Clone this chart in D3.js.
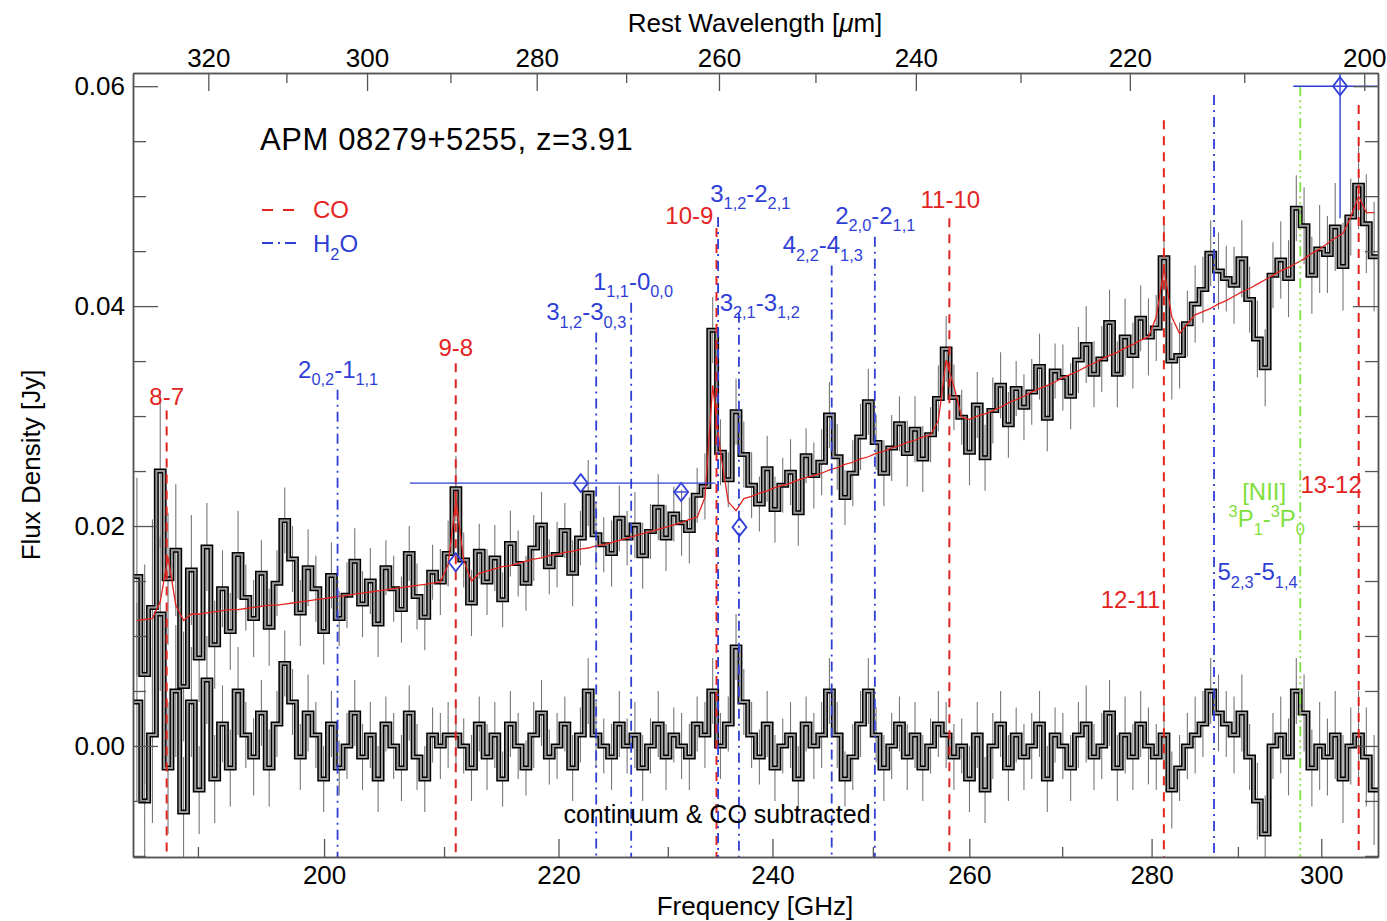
<!DOCTYPE html>
<html>
<head>
<meta charset="utf-8">
<script src="https://cdn.jsdelivr.net/npm/d3@7"></script>
<style>
  body { margin: 0; background: #fff; }
  svg { font-family: "Liberation Sans", Arial, Helvetica, sans-serif; }
</style>
</head>
<body>
<div id="wrapper"></div>
<script>
// channel grid (GHz), log spaced like the Z-Spec channels
const nuMin = 185.05, nuMax = 307.0, nChannels = 160
const redshift = 3.91

// observed spectrum, mJy
const flux = [
  15.4, 6.5, 12.6, 25.0, 15.2, 17.8, 5.4, 16.0, 8.0, 18.1,
  9.2, 14.3, 10.4, 17.4, 13.5, 11.6, 15.7, 10.8, 14.8, 20.5,
  17.0, 12.1, 16.2, 14.3, 10.4, 15.5, 11.6, 13.7, 16.8, 12.9,
  15.0, 11.1, 16.2, 14.3, 12.4, 17.5, 13.6, 11.7, 15.8, 14.9,
  17.5, 23.4, 16.9, 13.0, 17.7, 14.9, 17.1, 13.3, 18.4, 16.6,
  14.8, 18.0, 20.1, 16.3, 17.4, 19.6, 15.7, 18.9, 23.0, 19.2,
  18.3, 17.5, 20.7, 18.9, 20.1, 17.3, 19.5, 21.7, 18.9, 21.1,
  20.3, 19.6, 22.8, 23.6, 37.8, 26.7, 24.2, 30.4, 26.5, 23.7,
  22.0, 25.2, 21.5, 23.7, 24.9, 21.2, 26.4, 24.6, 25.8, 30.1,
  26.3, 22.6, 24.8, 28.1, 31.3, 27.6, 24.8, 27.1, 29.3, 26.6,
  28.8, 26.1, 28.3, 31.6, 36.1, 31.7, 29.9, 26.7, 31.0, 26.2,
  30.5, 32.8, 29.2, 32.5, 30.8, 32.2, 34.5, 29.8, 34.1, 33.5,
  31.8, 35.1, 36.5, 33.8, 35.2, 38.5, 33.8, 37.2, 35.5, 38.9,
  37.2, 38.0, 44.4, 35.0, 35.5, 38.4, 40.2, 41.5, 44.8, 43.2,
  42.5, 41.9, 44.3, 40.6, 37.0, 34.4, 42.8, 44.2, 42.5, 48.9,
  47.3, 42.8, 45.2, 44.7, 47.2, 43.6, 48.1, 51.0, 47.5, 44.5
]

// continuum & CO subtracted, mJy
const resid = [
  4, -5, 1, 12, -2, 5, -6, 4, -4, 6,
  -3, 2, -2, 5, 1, -1, 3, -2, 2, 7.5,
  4, -1, 3, 1, -3, 2, -2, 0, 3, -1,
  1, -3, 2, 0, -2, 3, -1, -3, 1, 0,
  1, 1, 0, -2, 2, -1, 1, -3, 2, 0,
  -2, 1, 3, -1, 0, 2, -2, 1, 5, 1,
  0, -1, 2, 0, 1, -2, 0, 2, -1, 1,
  0, -1, 2, 1, 5, 0, 2, 9, 4, 1,
  -1, 2, -2, 0, 1, -3, 2, 0, 1, 5,
  1, -3, -1, 2, 5, 1, -2, 0, 2, -1,
  1, -2, 0, 2, 1, -1, 0, -3, 1, -4,
  0, 2, -2, 1, -1, 0, 2, -3, 1, 0,
  -2, 1, 2, -1, 0, 3, -2, 1, -1, 2,
  0, -1, 1, -4, -2, 0, 1, 2, 5, 3,
  2, 1, 3, -1, -5, -8, 0, 1, -1, 5,
  3, -2, 0, -1, 1, -3, 0, 1, -1, -4
]

// continuum + CO model, mJy
const model = [
  11.4, 11.5, 11.6, 13.1, 17.2, 12.8, 11.4, 12.0, 12.0, 12.1,
  12.2, 12.3, 12.4, 12.4, 12.5, 12.6, 12.7, 12.8, 12.8, 12.9,
  13.0, 13.1, 13.2, 13.3, 13.4, 13.5, 13.6, 13.7, 13.8, 13.9,
  14.0, 14.1, 14.2, 14.3, 14.4, 14.5, 14.6, 14.7, 14.8, 14.9,
  16.5, 22.4, 16.9, 15.0, 15.7, 15.9, 16.1, 16.3, 16.4, 16.6,
  16.8, 17.0, 17.1, 17.3, 17.4, 17.6, 17.7, 17.9, 18.0, 18.2,
  18.3, 18.5, 18.7, 18.9, 19.1, 19.3, 19.5, 19.7, 19.9, 20.1,
  20.3, 20.6, 20.8, 22.6, 32.8, 26.7, 22.2, 21.4, 22.5, 22.7,
  23.0, 23.2, 23.5, 23.7, 23.9, 24.2, 24.4, 24.6, 24.8, 25.1,
  25.3, 25.6, 25.8, 26.1, 26.3, 26.6, 26.8, 27.1, 27.3, 27.6,
  27.8, 28.1, 28.3, 29.6, 35.1, 32.7, 29.9, 29.7, 30.0, 30.2,
  30.5, 30.8, 31.2, 31.5, 31.8, 32.2, 32.5, 32.8, 33.1, 33.5,
  33.8, 34.1, 34.5, 34.8, 35.2, 35.5, 35.8, 36.2, 36.5, 36.9,
  37.2, 39.0, 43.4, 39.0, 37.5, 38.4, 39.2, 39.5, 39.8, 40.2,
  40.5, 40.9, 41.3, 41.6, 42.0, 42.4, 42.8, 43.2, 43.5, 43.9,
  44.3, 44.8, 45.2, 45.7, 46.2, 46.6, 48.1, 50.0, 48.5, 48.5
]

// 1-sigma errors, mJy
const err = [
  9, 10, 8, 7, 6, 6, 5, 5, 4, 4,
  4, 3.5, 3.5, 4, 3, 3.5, 3, 3.5, 3, 3,
  3, 3, 3.5, 3, 3, 3, 2.5, 3, 3, 3,
  3, 3, 2.5, 3, 3, 2.5, 3, 3, 2.5, 3,
  3, 3, 2.5, 3, 2.5, 3, 3, 2.5, 3, 3,
  2.5, 3, 3, 2.5, 3, 2.5, 3, 2.5, 3, 3,
  2.5, 3, 3, 2.5, 3, 3, 2.5, 3, 3, 2.5,
  3, 3, 2.5, 3, 3, 3, 2.5, 3, 3, 3,
  2.5, 3, 3, 2.5, 3, 3, 2.5, 3, 3, 3,
  3, 2.5, 3, 3, 3, 2.5, 3, 3, 2.5, 3,
  3, 3, 2.5, 3, 3, 3, 2.5, 3, 3, 3,
  3, 3, 3, 2.5, 3, 3, 3, 3, 2.5, 3,
  3, 3, 3.5, 3, 3, 3, 3, 3.5, 3, 3,
  3.5, 3, 3, 3.5, 3, 3, 3.5, 3, 3, 3.5,
  3, 3.5, 3.5, 3, 3.5, 3.5, 3, 3.5, 3.5, 3,
  3.5, 3.5, 4, 3.5, 4, 4, 3.5, 4, 4.5, 5
]

// line identifications: observed GHz, top of marker (mJy), label spot in data units
const coLines = [
  { label: "8-7",   nu: 187.6, top: 30.5, lx: 187.6, ly: 31.0, anchor: "middle" },
  { label: "9-8",   nu: 211.0, top: 34.8, lx: 211.0, ly: 35.5, anchor: "middle" },
  { label: "10-9",  nu: 234.6, top: 47.1, lx: 234.3, ly: 47.5, anchor: "end" },
  { label: "11-10", nu: 257.9, top: 48.0, lx: 258.0, ly: 48.9, anchor: "middle" },
  { label: "12-11", nu: 281.4, top: 56.9, lx: 281.0, ly: 12.5, anchor: "end" },
  { label: "13-12", nu: 304.6, top: 58.3, lx: 301.2, ly: 23.0, anchor: "middle" }
]
const h2oLines = [
  { label: "2_{0,2}-1_{1,1}", nu: 201.1,  top: 32.4, lx: 197.9, ly: 33.5 },
  { label: "3_{1,2}-3_{0,3}", nu: 223.4,  top: 37.6, lx: 218.9, ly: 38.7 },
  { label: "1_{1,1}-0_{0,0}", nu: 226.6,  top: 40.3, lx: 223.1, ly: 41.5 },
  { label: "3_{1,2}-2_{2,1}", nu: 234.75, top: 48.1, lx: 234.0, ly: 49.5 },
  { label: "3_{2,1}-3_{1,2}", nu: 236.75, top: 39.4, lx: 234.9, ly: 39.6 },
  { label: "4_{2,2}-4_{1,3}", nu: 245.85, top: 43.7, lx: 241.0, ly: 44.8 },
  { label: "2_{2,0}-2_{1,1}", nu: 250.2,  top: 46.3, lx: 246.2, ly: 47.5 },
  { label: "5_{2,3}-5_{1,4}", nu: 287.2,  top: 59.2, lx: 287.6, ly: 15.1 }
]
const niiLine = { nu: 297.45, top: 60.0, labels: [
  { text: "[NII]", lx: 290.5, ly: 22.4 },
  { text: "^{3}P_{1}-^{3}P_{0}", lx: 288.9, ly: 19.9 }
] }

// other measurements (blue diamonds)
const blueNu    = [211.0, 222.0, 231.25, 236.8, 302.3]
const blueFlux  = [16.7, 23.9, 23.1, 19.9, 60.0]
const blueNuLo  = [211.0, 207.1, 230.6, 236.8, 296.6]
const blueNuHi  = [211.0, 234.5, 231.9, 236.8, 307.0]
const blueErr   = [0, 0, 0, 0, 12]

const freqMajor = [200, 220, 240, 260, 280, 300]
const freqMinor = [190, 210, 230, 250, 270, 290]
const waveMajor = [320, 300, 280, 260, 240, 220, 200]
const waveMinor = [310, 290, 270, 250, 230, 210]
const fluxMajor = [0, 20, 40, 60]
const fluxMinor = [-10, -5, 5, 10, 15, 25, 30, 35, 45, 50, 55]

const RED = "#e3241f", BLUE = "#2f3fd6", GREEN = "#7fe03c", AXIS = "#555"

let box = { left: 133, right: 1378, top: 73, bottom: 857 }

let svg = d3.select("#wrapper").append("svg")
    .attr("width", 1387).attr("height", 921)

let x = d3.scaleLog().domain([nuMin, nuMax]).range([box.left, box.right])
let y = d3.scaleLinear().domain([-10.1, 61.2]).range([box.bottom, box.top])
// rest wavelength in micron for the top axis
const toWave = nu => 299792.458 / (nu * (1 + redshift))
let xw = d3.scaleLog().domain([toWave(nuMin), toWave(nuMax)]).range([box.left, box.right])

svg.append("defs").append("clipPath").attr("id", "plotclip")
  .append("rect")
    .attr("x", box.left).attr("y", box.top)
    .attr("width", box.right - box.left).attr("height", box.bottom - box.top)

let plot = svg.append("g").attr("clip-path", "url(#plotclip)")

// channel edges + centres
let edges = d3.range(nChannels + 1).map(i => nuMin * Math.pow(nuMax / nuMin, i / nChannels))
let centers = d3.range(nChannels).map(i => Math.sqrt(edges[i] * edges[i + 1]))

function stepPoints(vals) {
  let pts = []
  vals.forEach((v, i) => { pts.push([edges[i], v]); pts.push([edges[i + 1], v]) })
  return pts
}

let line = d3.line().x(d => x(d[0])).y(d => y(d[1]))

// error bars
;[flux, resid].forEach(series => {
  plot.append("g").selectAll("line")
    .data(series)
    .enter().append("line")
      .attr("x1", (d, i) => x(centers[i])).attr("x2", (d, i) => x(centers[i]))
      .attr("y1", (d, i) => y(d - err[i])).attr("y2", (d, i) => y(d + err[i]))
      .attr("stroke", "#777").attr("stroke-width", 1.1)
})

// spectra: thick black with grey core
;[flux, resid].forEach(series => {
  plot.append("path").attr("d", line(stepPoints(series)))
    .attr("fill", "none").attr("stroke", "#000").attr("stroke-width", 5)
    .attr("stroke-linejoin", "miter")
  plot.append("path").attr("d", line(stepPoints(series)))
    .attr("fill", "none").attr("stroke", "#999").attr("stroke-width", 2)
})

// model
plot.append("path")
  .attr("d", line(model.map((v, i) => [centers[i], v])))
  .attr("fill", "none").attr("stroke", RED).attr("stroke-width", 1.3)

// line markers
plot.append("g").selectAll("line").data(coLines).enter().append("line")
  .attr("x1", d => x(d.nu)).attr("x2", d => x(d.nu))
  .attr("y1", d => y(d.top)).attr("y2", box.bottom)
  .attr("stroke", RED).attr("stroke-width", 2).attr("stroke-dasharray", "9,7")

plot.append("g").selectAll("line").data(h2oLines).enter().append("line")
  .attr("x1", d => x(d.nu)).attr("x2", d => x(d.nu))
  .attr("y1", d => y(d.top)).attr("y2", box.bottom)
  .attr("stroke", BLUE).attr("stroke-width", 1.8).attr("stroke-dasharray", "10,5,2,5")

plot.append("line")
  .attr("x1", x(niiLine.nu)).attr("x2", x(niiLine.nu))
  .attr("y1", y(niiLine.top)).attr("y2", box.bottom)
  .attr("stroke", GREEN).attr("stroke-width", 1.8).attr("stroke-dasharray", "10,4,2,4,2,4,2,4")

// blue points
let pts = plot.append("g")
blueNu.forEach((nu, i) => {
  pts.append("line")
    .attr("x1", x(blueNuLo[i])).attr("x2", x(blueNuHi[i]))
    .attr("y1", y(blueFlux[i])).attr("y2", y(blueFlux[i]))
    .attr("stroke", BLUE).attr("stroke-width", 1.4)
  if (blueErr[i] > 0) {
    pts.append("line")
      .attr("x1", x(nu)).attr("x2", x(nu))
      .attr("y1", y(blueFlux[i] - blueErr[i])).attr("y2", y(blueFlux[i] + blueErr[i]))
      .attr("stroke", BLUE).attr("stroke-width", 1.4)
  }
  pts.append("path")
    .attr("transform", `translate(${x(nu)},${y(blueFlux[i])})`)
    .attr("d", "M0,-9L7,0L0,9L-7,0Z")
    .attr("fill", "none").attr("stroke", BLUE).attr("stroke-width", 1.8)
})

// text with _{sub} and ^{sup}
function richText(sel, str, size) {
  let parts = str.split(/([_^]\{[^}]*\})/).filter(s => s.length)
  let shift = 0
  parts.forEach(p => {
    let target = 0, txt = p, fs = size
    if (p[0] === "_") { target = size * 0.32; txt = p.slice(2, -1); fs = size * 0.68 }
    else if (p[0] === "^") { target = -size * 0.42; txt = p.slice(2, -1); fs = size * 0.68 }
    sel.append("tspan").attr("dy", target - shift).attr("font-size", fs).text(txt)
    shift = target
  })
}

let labels = svg.append("g")
coLines.forEach(d => {
  labels.append("text")
    .attr("x", x(d.lx)).attr("y", y(d.ly))
    .attr("text-anchor", d.anchor).attr("fill", RED).attr("font-size", 24)
    .text(d.label)
})
h2oLines.forEach(d => {
  let t = labels.append("text").attr("x", x(d.lx)).attr("y", y(d.ly)).attr("fill", BLUE)
  richText(t, d.label, 24)
})
niiLine.labels.forEach(d => {
  let t = labels.append("text").attr("x", x(d.lx)).attr("y", y(d.ly)).attr("fill", GREEN)
  richText(t, d.text, 24)
})

// title, legend, note
svg.append("text").attr("x", 260).attr("y", 150)
  .attr("font-size", 31).attr("letter-spacing", 0.6).attr("fill", "#000")
  .text("APM 08279+5255, z=3.91")

svg.append("line").attr("x1", 262).attr("x2", 300).attr("y1", 210).attr("y2", 210)
  .attr("stroke", RED).attr("stroke-width", 2).attr("stroke-dasharray", "11,10")
svg.append("text").attr("x", 313).attr("y", 218).attr("font-size", 24).attr("fill", RED).text("CO")
svg.append("line").attr("x1", 262).attr("x2", 300).attr("y1", 243).attr("y2", 243)
  .attr("stroke", BLUE).attr("stroke-width", 2).attr("stroke-dasharray", "11,5,2,5")
let h2oLegend = svg.append("text").attr("x", 313).attr("y", 252).attr("fill", BLUE)
richText(h2oLegend, "H_{2}O", 24)

svg.append("text").attr("x", 717).attr("y", 823).attr("text-anchor", "middle")
  .attr("font-size", 25).attr("fill", "#000").text("continuum & CO subtracted")

// axes
function styleAxis(g) {
  g.selectAll("path").attr("stroke", AXIS).attr("stroke-width", 1.5)
  g.selectAll("line").attr("stroke", AXIS).attr("stroke-width", 1.3)
  g.selectAll("text").attr("font-size", 26).attr("fill", "#000")
    .attr("font-family", "'Liberation Sans', Arial, sans-serif")
}

svg.append("g").attr("transform", `translate(0,${box.bottom})`)
  .call(d3.axisBottom(x).tickValues(freqMajor).tickFormat(d3.format("d"))
    .tickSize(-18).tickSizeOuter(0).tickPadding(9))
  .call(styleAxis)
svg.append("g").attr("transform", `translate(0,${box.bottom})`)
  .call(d3.axisBottom(x).tickValues(freqMinor).tickFormat("").tickSize(-10).tickSizeOuter(0))
  .call(styleAxis)

svg.append("g").attr("transform", `translate(0,${box.top})`)
  .call(d3.axisTop(xw).tickValues(waveMajor).tickFormat(d3.format("d"))
    .tickSize(-18).tickSizeOuter(0).tickPadding(6))
  .call(styleAxis)
svg.append("g").attr("transform", `translate(0,${box.top})`)
  .call(d3.axisTop(xw).tickValues(waveMinor).tickFormat("").tickSize(-10).tickSizeOuter(0))
  .call(styleAxis)

svg.append("g").attr("transform", `translate(${box.left},0)`)
  .call(d3.axisLeft(y).tickValues(fluxMajor).tickFormat(d => (d / 1000).toFixed(2))
    .tickSize(-25).tickSizeOuter(0).tickPadding(8))
  .call(styleAxis)
svg.append("g").attr("transform", `translate(${box.left},0)`)
  .call(d3.axisLeft(y).tickValues(fluxMinor).tickFormat("").tickSize(-13).tickSizeOuter(0))
  .call(styleAxis)
svg.append("g").attr("transform", `translate(${box.right},0)`)
  .call(d3.axisRight(y).tickValues(fluxMajor).tickFormat("").tickSize(-25).tickSizeOuter(0))
  .call(styleAxis)
svg.append("g").attr("transform", `translate(${box.right},0)`)
  .call(d3.axisRight(y).tickValues(fluxMinor).tickFormat("").tickSize(-13).tickSizeOuter(0))
  .call(styleAxis)

// axis titles
svg.append("text").attr("x", 755).attr("y", 915).attr("text-anchor", "middle")
  .attr("font-size", 26).text("Frequency [GHz]")
let waveTitle = svg.append("text").attr("x", 755).attr("y", 32).attr("text-anchor", "middle")
  .attr("font-size", 26)
waveTitle.append("tspan").text("Rest Wavelength [")
waveTitle.append("tspan").attr("font-style", "italic").text("\u03bc")
waveTitle.append("tspan").text("m]")
svg.append("text")
  .attr("transform", "translate(40,465) rotate(-90)")
  .attr("text-anchor", "middle").attr("font-size", 26).text("Flux Density [Jy]")
</script>
</body>
</html>
